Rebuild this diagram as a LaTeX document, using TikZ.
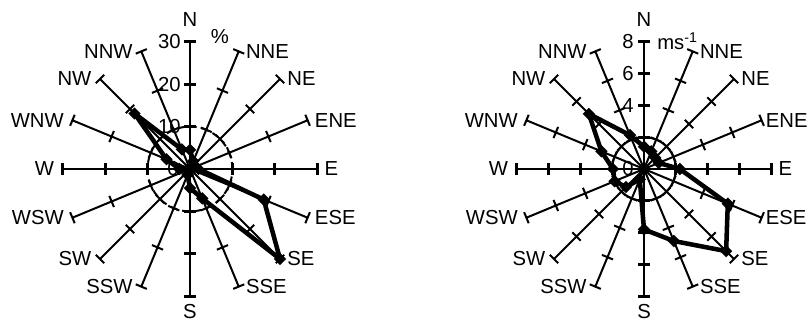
\documentclass[tikz,border=0pt]{standalone}
\usepackage{fontspec}
\setmainfont{Liberation Sans}
\usetikzlibrary{shapes.geometric}

\tikzset{
  spoke/.style={line width=1.5pt},
  axisline/.style={line width=2.2pt},
  series/.style={line width=3.4pt, line join=round},
  marker/.style={diamond, fill=black, inner sep=0pt, minimum width=9.5pt, minimum height=9.5pt},
  every node/.style={font=\fontsize{15.2}{18}\selectfont}
}

\begin{document}
\begin{tikzpicture}[x=0.75pt, y=0.75pt]
  \useasboundingbox (0,0) rectangle (812,325);

  % left rose: frequency in %
  \begin{scope}[shift={(190,156)}]
    \node[anchor=east, inner sep=0pt] (l10) at (-9,42.43) {10};
    \node[anchor=east, inner sep=0pt] (l20) at (-9,84.85) {20};
    \node[anchor=east, inner sep=0pt] (l30) at (-9,127.3) {30};
    \node (l0) at (-17,0) {0};
    \node (lunit) at (30,132) {\%};

    \draw[spoke, dash pattern=on 5.25pt off 3.75pt] (0,0) circle (42.43);

    \foreach \a in {67.5,45,22.5,-22.5,-45,-67.5,-112.5,-135,-157.5,157.5,135,112.5}
      \draw[spoke, rotate=\a] (0,0) -- (127.3,0)
        (42.43,-6) -- (42.43,6) (84.85,-6) -- (84.85,6) (127.3,-6) -- (127.3,6);
    \foreach \a in {0,90,180,270}
      \draw[axisline, rotate=\a] (0,0) -- (127.3,0)
        (42.43,-6) -- (42.43,6) (84.85,-6) -- (84.85,6) (127.3,-6) -- (127.3,6);

    \foreach \v [count=\i from 0] in {4.5,2,1.2,1.2,2,18.8,30,7.5,4.5,1.5,1,1,2.5,6,18.5,5}
      \coordinate (lp\i) at ({90-22.5*\i}:{\v*4.243});
    \draw[series] (lp0) \foreach \i in {1,...,15} {-- (lp\i)} -- cycle;
    \foreach \i in {0,...,15}
      \node[marker] (lm\i) at (lp\i) {};

    \foreach \d/\a in {NNE/67.5,NE/45,ENE/22.5,E/0,ESE/-22.5,SE/-45,SSE/-67.5}
      \node[anchor=west, xshift=2] (l\d) at (\a:127.3) {\d};
    \foreach \d/\a in {SSW/-112.5,SW/-135,WSW/-157.5,W/180,WNW/157.5,NW/135,NNW/112.5}
      \node[anchor=east, xshift=-3] (l\d) at (\a:127.3) {\d};
    \node[anchor=south] (lN) at (0,138) {N};
    \node[anchor=north] (lS) at (0,-131) {S};
  \end{scope}

  % right rose: wind speed in m/s
  \begin{scope}[shift={(644,156)}]
    \node[anchor=east, inner sep=0pt] (r4) at (-10,63.64) {4};
    \node[anchor=east, inner sep=0pt] (r6) at (-10,95.46) {6};
    \node[anchor=east, inner sep=0pt] (r8) at (-10,127.3) {8};
    \node (r0) at (-16,0) {0};
    \node[anchor=west, inner sep=0pt] (runit) at (13,128) {ms\textsuperscript{-1}};

    \draw[spoke] (0,0) circle (31.82);

    \foreach \a in {67.5,45,22.5,-22.5,-45,-67.5,-112.5,-135,-157.5,157.5,135,112.5}
      \draw[spoke, rotate=\a] (0,0) -- (127.3,0)
        (31.82,-6) -- (31.82,6) (63.64,-6) -- (63.64,6)
        (95.46,-6) -- (95.46,6) (127.3,-6) -- (127.3,6);
    \foreach \a in {0,90,180,270}
      \draw[axisline, rotate=\a] (0,0) -- (127.3,0)
        (31.82,-6) -- (31.82,6) (63.64,-6) -- (63.64,6)
        (95.46,-6) -- (95.46,6) (127.3,-6) -- (127.3,6);

    \foreach \v [count=\i from 0] in {1.4,1.2,1,1,2.25,5.7,7.3,4.9,3.8,0.7,1.6,2,1.95,2.9,4.9,2.3}
      \coordinate (rp\i) at ({90-22.5*\i}:{\v*15.91});
    \draw[series] (rp0) \foreach \i in {1,...,15} {-- (rp\i)} -- cycle;
    \foreach \i in {0,...,15}
      \node[marker] (rm\i) at (rp\i) {};

    \foreach \d/\a in {NNE/67.5,NE/45,E/0,SE/-45,SSE/-67.5}
      \node[anchor=west, xshift=2] (r\d) at (\a:127.3) {\d};
    \foreach \d/\a in {ENE/22.5,ESE/-22.5}
      \node[anchor=west, inner sep=3pt] (r\d) at (\a:127.3) {\d};
    \foreach \d/\a in {SSW/-112.5,SW/-135,WSW/-157.5,W/180,WNW/157.5,NW/135,NNW/112.5}
      \node[anchor=east, xshift=-3] (r\d) at (\a:127.3) {\d};
    \node[anchor=south] (rN) at (0,138) {N};
    \node[anchor=north] (rS) at (0,-131) {S};
  \end{scope}
\end{tikzpicture}
\end{document}
